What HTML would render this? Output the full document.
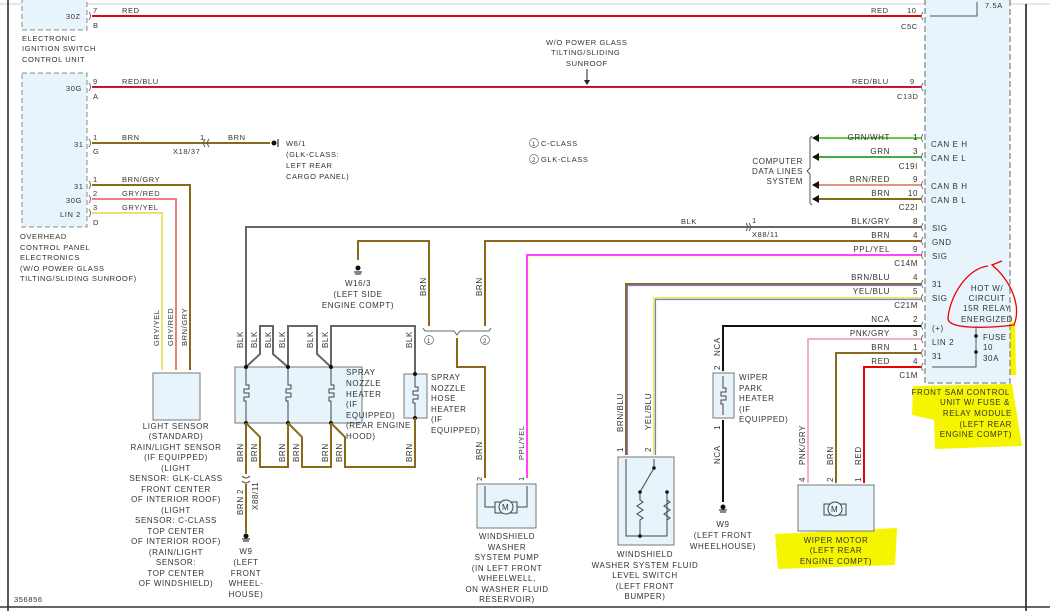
<!DOCTYPE html>
<html><head><meta charset="utf-8"><style>
html,body{margin:0;padding:0;background:#fff;}
svg{display:block;}
text{font-family:"Liberation Sans",sans-serif;font-size:8px;fill:#333;letter-spacing:0.6px;}
.s{font-size:7.5px;}
</style></head><body>
<svg width="1050" height="611" viewBox="0 0 1050 611" xmlns="http://www.w3.org/2000/svg">
<rect width="1050" height="611" fill="#fff"/>
<path d="M962 326 L1015 322 L1016 375 L960 377 Z" fill="#f5f500"/>
<path d="M913 386 L1012 384 L1022 446 L935 449 L934 420 L912 415 Z" fill="#f5f500"/>
<path d="M775 534 L897 528 L895 565 L778 569 Z" fill="#f5f500"/>
<line x1="0" y1="4" x2="1050" y2="4" stroke="#ccc" stroke-width="1"/>
<line x1="8" y1="0" x2="8" y2="611" stroke="#222" stroke-width="1.5"/>
<line x1="1026" y1="4" x2="1026" y2="611" stroke="#111" stroke-width="1.5"/>
<line x1="0" y1="607" x2="1050" y2="607" stroke="#333" stroke-width="1.5"/>
<text x="14" y="602" class="s">356856</text>
<rect x="22" y="-5" width="65" height="35" fill="#e8f4fb" stroke="#888" stroke-dasharray="5,3"/>
<rect x="22" y="73" width="65" height="154" fill="#e8f4fb" stroke="#888" stroke-dasharray="5,3"/>
<rect x="925" y="-5" width="85" height="388" fill="#e8f4fb" stroke="#888" stroke-dasharray="6,3" stroke-width="1.3"/>
<polyline points="930,16 977,16 977,2" fill="none" stroke="#555"/>
<text x="985" y="8" class="s">7.5A</text>
<text x="66" y="19" class="s">30Z</text>
<text x="93" y="13" class="s">7</text><text x="93" y="28" class="s">B</text>
<text x="22" y="41" class="s">ELECTRONIC</text><text x="22" y="51" class="s">IGNITION SWITCH</text><text x="22" y="62" class="s">CONTROL UNIT</text>
<text x="66" y="91" class="s">30G</text><text x="93" y="84" class="s">9</text><text x="93" y="99" class="s">A</text>
<text x="74" y="147" class="s">31</text><text x="93" y="140" class="s">1</text><text x="93" y="154" class="s">G</text>
<text x="74" y="189" class="s">31</text><text x="66" y="203" class="s">30G</text><text x="60" y="217" class="s">LIN 2</text>
<text x="93" y="182" class="s">1</text><text x="93" y="196" class="s">2</text><text x="93" y="210" class="s">3</text><text x="93" y="225" class="s">D</text>
<text x="20" y="239" class="s">OVERHEAD</text><text x="20" y="250" class="s">CONTROL PANEL</text><text x="20" y="260" class="s">ELECTRONICS</text><text x="20" y="271" class="s">(W/O POWER GLASS</text><text x="20" y="281" class="s">TILTING/SLIDING SUNROOF)</text>
<g fill="none" stroke="#555" stroke-width="0.8">
<path d="M89 12 Q92 16 89 20"/><path d="M89 83 Q92 87 89 91"/><path d="M89 139 Q92 143 89 147"/><path d="M89 181 Q92 185 89 189"/><path d="M89 195 Q92 199 89 203"/><path d="M89 209 Q92 213 89 217"/>
<path d="M923 12 Q920 16 923 20"/><path d="M923 83 Q920 87 923 91"/><path d="M923 134 Q920 138 923 142"/><path d="M923 153 Q920 157 923 161"/><path d="M923 181 Q920 185 923 189"/><path d="M923 195 Q920 199 923 203"/><path d="M923 223 Q920 227 923 231"/><path d="M923 237 Q920 241 923 245"/><path d="M923 251 Q920 255 923 259"/><path d="M923 280 Q920 284 923 288"/><path d="M923 294 Q920 298 923 302"/><path d="M923 322 Q920 326 923 330"/><path d="M923 335 Q920 339 923 343"/><path d="M923 349 Q920 353 923 357"/><path d="M923 363 Q920 367 923 371"/>
</g>
<line x1="92" y1="16" x2="921" y2="16" stroke="#e00" stroke-width="2"/>
<text x="122" y="13" class="s">RED</text><text x="871" y="13" class="s">RED</text><text x="907" y="13" class="s">10</text><text x="901" y="29" class="s">C5C</text>
<line x1="92" y1="87" x2="921" y2="87" stroke="#e00" stroke-width="2"/>
<line x1="92" y1="87.5" x2="921" y2="87.5" stroke="#55c" stroke-width="0.5"/>
<text x="122" y="84" class="s">RED/BLU</text><text x="852" y="84" class="s">RED/BLU</text><text x="910" y="84" class="s">9</text><text x="897" y="99" class="s">C13D</text>
<text x="546" y="45" class="s">W/O POWER GLASS</text><text x="551" y="55" class="s">TILTING/SLIDING</text><text x="566" y="66" class="s">SUNROOF</text>
<line x1="587" y1="69" x2="587" y2="83" stroke="#222"/><path d="M584 80 L590 80 L587 85Z" fill="#222"/>
<line x1="92" y1="143" x2="270" y2="143" stroke="#8a6a1a" stroke-width="2"/>
<text x="122" y="140" class="s">BRN</text><text x="228" y="140" class="s">BRN</text><text x="200" y="140" class="s">1</text>
<text x="173" y="154" class="s">X18/37</text><path d="M205 139 Q202 143 205 147 M209 139 Q206 143 209 147" fill="none" stroke="#555"/>
<circle cx="274" cy="143" r="2.5" fill="#111"/><line x1="278" y1="139" x2="278" y2="147" stroke="#111"/>
<text x="286" y="146" class="s">W6/1</text><text x="286" y="157" class="s">(GLK-CLASS:</text><text x="286" y="168" class="s">LEFT REAR</text><text x="286" y="179" class="s">CARGO PANEL)</text>
<circle cx="534" cy="143" r="4.5" fill="none" stroke="#666" stroke-width="0.7"/><text x="532" y="146" style="font-size:6px">1</text><text x="541" y="146" class="s">C-CLASS</text>
<circle cx="534" cy="159" r="4.5" fill="none" stroke="#666" stroke-width="0.7"/><text x="532" y="162" style="font-size:6px">2</text><text x="541" y="162" class="s">GLK-CLASS</text>
<polyline points="92,185 190,185 190,370" fill="none" stroke="#8a6a1a" stroke-width="2"/>
<polyline points="92,199 176,199 176,370" fill="none" stroke="#f08080" stroke-width="2"/>
<polyline points="92,213 162,213 162,370" fill="none" stroke="#eee070" stroke-width="2"/>
<text x="122" y="182" class="s">BRN/GRY</text><text x="122" y="196" class="s">GRY/RED</text><text x="122" y="210" class="s">GRY/YEL</text>
<text transform="translate(159,346) rotate(-90)" class="s">GRY/YEL</text>
<text transform="translate(173,346) rotate(-90)" class="s">GRY/RED</text>
<text transform="translate(187,346) rotate(-90)" class="s">BRN/GRY</text>
<rect x="153" y="373" width="47" height="47" fill="#e8f4fb" stroke="#777"/>
<g class="s" text-anchor="middle">
<text x="176" y="429">LIGHT SENSOR</text><text x="176" y="439">(STANDARD)</text><text x="176" y="450">RAIN/LIGHT SENSOR</text><text x="176" y="460">(IF EQUIPPED)</text><text x="176" y="471">(LIGHT</text><text x="176" y="481">SENSOR: GLK-CLASS</text><text x="176" y="492">FRONT CENTER</text><text x="176" y="502">OF INTERIOR ROOF)</text><text x="176" y="513">(LIGHT</text><text x="176" y="523">SENSOR: C-CLASS</text><text x="176" y="534">TOP CENTER</text><text x="176" y="544">OF INTERIOR ROOF)</text><text x="176" y="555">(RAIN/LIGHT</text><text x="176" y="565">SENSOR:</text><text x="176" y="576">TOP CENTER</text><text x="176" y="586">OF WINDSHIELD)</text>
</g>
<line x1="815" y1="138" x2="921" y2="138" stroke="#6c4" stroke-width="2"/>
<line x1="815" y1="157" x2="921" y2="157" stroke="#4a4" stroke-width="2"/>
<line x1="815" y1="185" x2="921" y2="185" stroke="#d97" stroke-width="2"/>
<line x1="815" y1="199" x2="921" y2="199" stroke="#8a6a1a" stroke-width="2"/>
<g fill="#111"><path d="M812 138 L819 134 L819 142Z"/><path d="M812 157 L819 153 L819 161Z"/><path d="M812 185 L819 181 L819 189Z"/><path d="M812 199 L819 195 L819 203Z"/></g>
<path d="M812 136 L810 138 L810 168 L807 171 L810 174 L810 203 L812 205" fill="none" stroke="#555"/>
<g class="s" text-anchor="end"><text x="803" y="164">COMPUTER</text><text x="803" y="174">DATA LINES</text><text x="803" y="184">SYSTEM</text>
<text x="890" y="140">GRN/WHT</text><text x="890" y="154">GRN</text><text x="890" y="182">BRN/RED</text><text x="890" y="196">BRN</text>
<text x="918" y="140">1</text><text x="918" y="154">3</text><text x="918" y="169">C19I</text><text x="918" y="182">9</text><text x="918" y="196">10</text><text x="918" y="210">C22I</text>
<text x="890" y="224">BLK/GRY</text><text x="890" y="238">BRN</text><text x="890" y="252">PPL/YEL</text><text x="918" y="224">8</text><text x="918" y="238">4</text><text x="918" y="252">9</text><text x="918" y="266">C14M</text>
<text x="890" y="280">BRN/BLU</text><text x="890" y="294">YEL/BLU</text><text x="918" y="280">4</text><text x="918" y="294">5</text><text x="918" y="308">C21M</text>
<text x="890" y="322">NCA</text><text x="890" y="336">PNK/GRY</text><text x="890" y="350">BRN</text><text x="890" y="364">RED</text>
<text x="918" y="322">2</text><text x="918" y="336">3</text><text x="918" y="350">1</text><text x="918" y="364">4</text><text x="918" y="378">C1M</text>
</g>
<g class="s"><text x="931" y="147">CAN E H</text><text x="931" y="161">CAN E L</text><text x="931" y="189">CAN B H</text><text x="931" y="203">CAN B L</text>
<text x="932" y="231">SIG</text><text x="932" y="245">GND</text><text x="932" y="259">SIG</text><text x="932" y="287">31</text><text x="932" y="301">SIG</text>
<text x="932" y="331">(+)</text><text x="932" y="345">LIN 2</text><text x="932" y="359">31</text></g>
<g class="s" text-anchor="middle"><text x="987" y="291">HOT W/</text><text x="987" y="301">CIRCUIT</text><text x="987" y="311">15R RELAY</text><text x="987" y="322">ENERGIZED</text></g>
<path d="M988 266 C968 268 950 295 948 318 C947 330 990 328 1014 325 C1022 305 1010 280 992 265 L1002 261" fill="none" stroke="#e00" stroke-width="1.3"/>
<polyline points="976,326 976,367 932,367" fill="none" stroke="#555"/>
<circle cx="976" cy="336" r="1.8" fill="#111"/><circle cx="976" cy="352" r="1.8" fill="#111"/>
<g class="s"><text x="983" y="340">FUSE</text><text x="983" y="350">10</text><text x="983" y="361">30A</text></g>
<g class="s" text-anchor="end"><text x="1010" y="395">FRONT SAM CONTROL</text><text x="1010" y="405">UNIT W/ FUSE &amp;</text><text x="1012" y="416">RELAY MODULE</text><text x="1012" y="427">(LEFT REAR</text><text x="1012" y="437">ENGINE COMPT)</text></g>
<polyline points="246,367 246,227 921,227" fill="none" stroke="#666" stroke-width="2"/>
<text x="681" y="224" class="s">BLK</text><text x="752" y="223" class="s">1</text><text x="752" y="237" class="s">X88/11</text>
<path d="M746 223 Q749 227 746 231 M749 223 Q752 227 749 231" fill="none" stroke="#555"/>
<g fill="none" stroke="#666" stroke-width="2">
<polyline points="246,367 260,354 260,326 273,326 273,354 288,367"/>
<polyline points="288,367 288,326 317,326 317,354 331,367"/>
<polyline points="331,367 331,326 415,326 415,373"/>
</g>
<g class="s"><text transform="translate(243,348) rotate(-90)">BLK</text><text transform="translate(257,348) rotate(-90)">BLK</text><text transform="translate(271,348) rotate(-90)">BLK</text><text transform="translate(285,348) rotate(-90)">BLK</text><text transform="translate(313,348) rotate(-90)">BLK</text><text transform="translate(328,348) rotate(-90)">BLK</text><text transform="translate(412,348) rotate(-90)">BLK</text></g>
<rect x="235" y="367" width="127" height="56" fill="#e8f4fb" stroke="#777"/>
<rect x="404" y="374" width="23" height="44" fill="#e8f4fb" stroke="#777"/>
<g fill="none" stroke="#444" stroke-width="1">
<path d="M246 367 V385 h3 v4 h-5 v4 h5 v4 h-5 v4 h2 V423"/>
<path d="M288 367 V385 h3 v4 h-5 v4 h5 v4 h-5 v4 h2 V423"/>
<path d="M331 367 V385 h3 v4 h-5 v4 h5 v4 h-5 v4 h2 V423"/>
<path d="M415 374 V387 h3 v4 h-5 v4 h5 v4 h-5 v4 h2 V418"/>
</g>
<g fill="#111"><circle cx="246" cy="367" r="2"/><circle cx="288" cy="367" r="2"/><circle cx="331" cy="367" r="2"/><circle cx="246" cy="423" r="2"/><circle cx="288" cy="423" r="2"/><circle cx="331" cy="423" r="2"/><circle cx="415" cy="374" r="2"/><circle cx="415" cy="418" r="2"/></g>
<g class="s"><text x="346" y="375">SPRAY</text><text x="346" y="386">NOZZLE</text><text x="346" y="397">HEATER</text><text x="346" y="407">(IF</text><text x="346" y="418">EQUIPPED)</text><text x="346" y="428">(REAR ENGINE</text><text x="346" y="439">HOOD)</text>
<text x="431" y="380">SPRAY</text><text x="431" y="391">NOZZLE</text><text x="431" y="401">HOSE</text><text x="431" y="412">HEATER</text><text x="431" y="422">(IF</text><text x="431" y="433">EQUIPPED)</text></g>
<g fill="none" stroke="#8a6a1a" stroke-width="2">
<polyline points="246,423 260,437 260,467 288,467 288,423"/>
<polyline points="288,423 302,437 302,467 331,467 331,423"/>
<polyline points="331,423 345,437 345,467 415,467 415,418"/>
<line x1="246" y1="423" x2="246" y2="474"/><line x1="246" y1="484" x2="246" y2="533"/>
</g>
<path d="M242 476 Q246 480 250 476 M242 481 Q246 485 250 481" fill="none" stroke="#555"/>
<g class="s"><text transform="translate(243,462) rotate(-90)">BRN</text><text transform="translate(257,462) rotate(-90)">BRN</text><text transform="translate(285,462) rotate(-90)">BRN</text><text transform="translate(299,462) rotate(-90)">BRN</text><text transform="translate(328,462) rotate(-90)">BRN</text><text transform="translate(342,462) rotate(-90)">BRN</text><text transform="translate(412,462) rotate(-90)">BRN</text>
<text transform="translate(243,515) rotate(-90)">BRN</text><text transform="translate(243,494) rotate(-90)">2</text><text transform="translate(258,510) rotate(-90)">X88/11</text></g>
<circle cx="246" cy="536" r="2.5" fill="#111"/><line x1="242" y1="539" x2="250" y2="539" stroke="#111"/><line x1="243" y1="541" x2="249" y2="541" stroke="#111"/>
<g class="s" text-anchor="middle"><text x="246" y="554">W9</text><text x="246" y="565">(LEFT</text><text x="246" y="576">FRONT</text><text x="246" y="586">WHEEL-</text><text x="246" y="597">HOUSE)</text></g>
<g fill="none" stroke="#8a6a1a" stroke-width="2">
<polyline points="358,260 358,241 429,241 429,326"/>
<polyline points="485,326 485,241 921,241"/>
<polyline points="457,338 457,367 485,367 485,478"/>
</g>
<path d="M423 328 L425 331 L454 331 L457 335 L460 331 L489 331 L491 328" fill="none" stroke="#666"/>
<circle cx="358" cy="268" r="2.5" fill="#111"/><line x1="354" y1="272" x2="362" y2="272" stroke="#111"/><line x1="355" y1="274" x2="361" y2="274" stroke="#111"/>
<g class="s" text-anchor="middle"><text x="358" y="286">W16/3</text><text x="358" y="297">(LEFT SIDE</text><text x="358" y="308">ENGINE COMPT)</text></g>
<g class="s"><text transform="translate(426,296) rotate(-90)">BRN</text><text transform="translate(482,296) rotate(-90)">BRN</text><text transform="translate(482,460) rotate(-90)">BRN</text></g>
<circle cx="429" cy="340" r="4.5" fill="none" stroke="#666" stroke-width="0.7"/><text x="427" y="343" style="font-size:6px">1</text>
<circle cx="485" cy="340" r="4.5" fill="none" stroke="#666" stroke-width="0.7"/><text x="483" y="343" style="font-size:6px">2</text>
<polyline points="527,478 527,255 921,255" fill="none" stroke="#f4f" stroke-width="2"/>
<polyline points="529,478 529,257 921,257" fill="none" stroke="#ee8" stroke-width="0.6"/>
<text transform="translate(524,460) rotate(-90)" class="s">PPL/YEL</text>
<text transform="translate(482,481) rotate(-90)" class="s">2</text><text transform="translate(524,481) rotate(-90)" class="s">1</text>
<rect x="477" y="484" width="59" height="44" fill="#e8f4fb" stroke="#777"/>
<polyline points="485,486 485,507 495,507" fill="none" stroke="#444"/><polyline points="527,486 527,507 517,507" fill="none" stroke="#444"/>
<rect x="495" y="502" width="22" height="11" fill="none" stroke="#444"/><circle cx="506" cy="507" r="7" fill="#e8f4fb" stroke="#444"/><text x="502" y="510" style="font-size:8px">M</text>
<g class="s" text-anchor="middle"><text x="507" y="539">WINDSHIELD</text><text x="507" y="550">WASHER</text><text x="507" y="560">SYSTEM PUMP</text><text x="507" y="571">(IN LEFT FRONT</text><text x="507" y="581">WHEELWELL,</text><text x="507" y="592">ON WASHER FLUID</text><text x="507" y="602">RESERVOIR)</text></g>
<polyline points="626,455 626,284 921,284" fill="none" stroke="#8a6a1a" stroke-width="2"/>
<polyline points="627.5,455 627.5,285.5 921,285.5" fill="none" stroke="#77f" stroke-width="1.2"/>
<polyline points="654,455 654,298 921,298" fill="none" stroke="#ee4" stroke-width="2"/>
<polyline points="655.5,455 655.5,299.5 921,299.5" fill="none" stroke="#77f" stroke-width="1.2"/>
<g class="s"><text transform="translate(623,432) rotate(-90)">BRN/BLU</text><text transform="translate(651,430) rotate(-90)">YEL/BLU</text><text transform="translate(623,452) rotate(-90)">1</text><text transform="translate(651,452) rotate(-90)">2</text></g>
<rect x="618" y="457" width="56" height="88" fill="#e8f4fb" stroke="#777"/>
<g fill="none" stroke="#444"><polyline points="626,459 626,536 667,536 667,492"/><polyline points="654,459 654,468"/><line x1="654" y1="468" x2="640" y2="492"/><path d="M640 492 v8 l3 2 l-6 4 l6 4 l-6 4 l6 4 l-3 2 v18"/><path d="M667 492 v8 l3 2 l-6 4 l6 4 l-6 4 l6 4 l-3 2 v4"/></g>
<g fill="#111"><circle cx="654" cy="468" r="1.8"/><circle cx="640" cy="492" r="1.8"/><circle cx="667" cy="492" r="1.8"/><circle cx="640" cy="536" r="1.8"/></g>
<g class="s" text-anchor="middle"><text x="645" y="557">WINDSHIELD</text><text x="645" y="568">WASHER SYSTEM FLUID</text><text x="645" y="578">LEVEL SWITCH</text><text x="645" y="589">(LEFT FRONT</text><text x="645" y="599">BUMPER)</text></g>
<polyline points="723,371 723,326 921,326" fill="none" stroke="#111" stroke-width="2"/>
<line x1="723" y1="420" x2="723" y2="502" stroke="#111" stroke-width="2"/>
<rect x="713" y="373" width="21" height="45" fill="#e8f4fb" stroke="#777"/>
<path d="M723 376 V388 h3 v4 h-5 v4 h5 v4 h-5 v4 h2 V415" fill="none" stroke="#444"/>
<g class="s"><text transform="translate(720,356) rotate(-90)">NCA</text><text transform="translate(720,370) rotate(-90)">2</text><text transform="translate(720,430) rotate(-90)">1</text><text transform="translate(720,464) rotate(-90)">NCA</text>
<text x="739" y="380">WIPER</text><text x="739" y="391">PARK</text><text x="739" y="401">HEATER</text><text x="739" y="412">(IF</text><text x="739" y="422">EQUIPPED)</text></g>
<circle cx="723" cy="507" r="2.5" fill="#111"/><line x1="719" y1="510" x2="727" y2="510" stroke="#111"/><line x1="720" y1="512" x2="726" y2="512" stroke="#111"/>
<g class="s" text-anchor="middle"><text x="723" y="527">W9</text><text x="723" y="538">(LEFT FRONT</text><text x="723" y="549">WHEELHOUSE)</text></g>
<polyline points="808,483 808,339 921,339" fill="none" stroke="#f4b0c0" stroke-width="2"/>
<polyline points="836,483 836,353 921,353" fill="none" stroke="#8a6a1a" stroke-width="2"/>
<polyline points="864,483 864,367 921,367" fill="none" stroke="#e00" stroke-width="2"/>
<g class="s"><text transform="translate(805,465) rotate(-90)">PNK/GRY</text><text transform="translate(833,465) rotate(-90)">BRN</text><text transform="translate(861,465) rotate(-90)">RED</text>
<text transform="translate(805,482) rotate(-90)">4</text><text transform="translate(833,482) rotate(-90)">2</text><text transform="translate(861,482) rotate(-90)">1</text></g>
<rect x="798" y="485" width="76" height="46" fill="#e8f4fb" stroke="#777"/>
<rect x="824" y="504" width="22" height="11" fill="none" stroke="#444"/><circle cx="835" cy="509" r="7" fill="#e8f4fb" stroke="#444"/><text x="831" y="512" style="font-size:8px">M</text>
<g class="s" text-anchor="middle"><text x="836" y="543">WIPER MOTOR</text><text x="836" y="553">(LEFT REAR</text><text x="836" y="564">ENGINE COMPT)</text></g>
</svg>
</body></html>
